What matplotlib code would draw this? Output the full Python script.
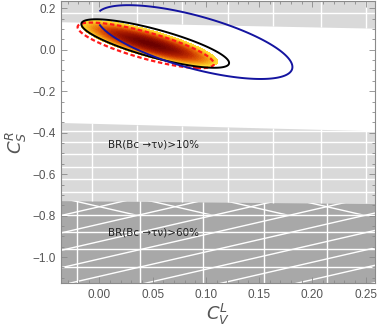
import numpy as np
import matplotlib
matplotlib.use("Agg")
import matplotlib.pyplot as plt
from matplotlib.patches import Polygon
from matplotlib.colors import LinearSegmentedColormap
from matplotlib.ticker import MultipleLocator, FuncFormatter

# plot range
x_range = [-0.036, 0.259]
y_range = [-1.125, 0.233]

# excluded regions: edges given at the left and right end of the x range
top_band_edge = [0.135, 0.104]        # BR > 10% (upper branch)
low_band_edge = [-0.351, -0.391]      # BR > 10% (lower branch)
dark_band_edge = [-0.728, -0.742]     # BR > 60%

# mesh lines of the region plots
light_vlines = [-0.0066, 0.0357, 0.078, 0.121, 0.1635, 0.2077, 0.25]
top_hlines = [0.178]
low_hlines = [-0.391, -0.447, -0.503, -0.565, -0.623, -0.688]
dark_vlines = [-0.0207, 0.0385, 0.0977, 0.155, 0.214]
dark_hlines = [-0.795, -0.877, -0.960, -1.048]
diag_slope = 1.18
diag_up = [-1.429, -1.345, -1.261, -1.177, -1.093, -1.009, -0.925, -0.841, -0.757]
diag_down = [-0.841, -0.757, -0.673, -0.589, -0.505, -0.421]

# fit ellipses: centre x, centre y, sigma x, sigma y, correlation
blue_fit = (0.0893, 0.037, 0.092, 0.178, -0.675)
black_fit = (0.0524, 0.030, 0.0694, 0.117, -0.80)
heat_fit = (0.047, 0.030, 0.064, 0.110, -0.80)
red_fit = (0.0435, 0.021, 0.064, 0.110, -0.80)

labels = ["BR(Bc \u2192\u03c4\u03bd)>10%", "BR(Bc \u2192\u03c4\u03bd)>60%"]
label_pos = [(0.051, -0.455), (0.051, -0.880)]


def chi2(X, Y, fit):
    cx, cy, sx, sy, rho = fit
    dx = (X - cx) / sx
    dy = (Y - cy) / sy
    return (dx**2 - 2 * rho * dx * dy + dy**2) / (1 - rho**2)


def edge(x, e):
    return np.interp(x, x_range, e)


fig = plt.figure(figsize=(3.82, 3.27), dpi=100)
ax = fig.add_axes([0.160, 0.1346, 0.822, 0.861])
ax.set_xlim(x_range)
ax.set_ylim(y_range)

light = "#d9d9d9"
dark = "#a8a8a8"
x0, x1 = x_range
y0, y1 = y_range

ax.fill_between(x_range, top_band_edge, y1, color=light, lw=0, zorder=0)
ax.fill_between(x_range, low_band_edge, y0, color=light, lw=0, zorder=0)
ax.fill_between(x_range, dark_band_edge, y0, color=dark, lw=0, zorder=0.5)

dark_poly = Polygon([(x0, dark_band_edge[0]), (x1, dark_band_edge[1]), (x1, y0), (x0, y0)],
                    closed=True, fc="none", ec="none")
strip_poly = Polygon([(x0, dark_band_edge[0]), (x1, dark_band_edge[1]),
                      (x1, dark_hlines[0]), (x0, dark_hlines[0])],
                     closed=True, fc="none", ec="none")
ax.add_patch(dark_poly)
ax.add_patch(strip_poly)

mesh = dict(color="white", lw=1.0, zorder=1, solid_capstyle="butt")

for v in light_vlines:
    ax.plot([v, v], [edge(v, top_band_edge), y1], **mesh)
    ax.plot([v, v], [edge(v, dark_band_edge), edge(v, low_band_edge)], **mesh)
for h in top_hlines:
    ax.plot(x_range, [h, h], **mesh)
for h in low_hlines:
    ax.plot(x_range, [h, h], **mesh)
for v in dark_vlines:
    ax.plot([v, v], [y0, edge(v, dark_band_edge)], **mesh)
for h in dark_hlines:
    ax.plot(x_range, [h, h], **mesh)

xs = np.array(x_range)
for c in diag_up:
    ln, = ax.plot(xs, diag_slope * xs + c, **mesh)
    ln.set_clip_path(dark_poly)
for d in diag_down:
    ln, = ax.plot(xs, -diag_slope * xs + d, **mesh)
    ln.set_clip_path(strip_poly)

# likelihood maps
gx = np.linspace(x0, x1, 600)
gy = np.linspace(y0, y1, 900)
X, Y = np.meshgrid(gx, gy)

heat_cmap = LinearSegmentedColormap.from_list(
    "heat", ["#6a0000", "#9a1200", "#c83400", "#e86a08", "#f6a818", "#ffdc30"])
ax.contourf(X, Y, chi2(X, Y, heat_fit), levels=np.linspace(0, 1, 30),
            cmap=heat_cmap, zorder=2)

ax.contour(X, Y, chi2(X, Y, red_fit), levels=[1], colors="#ff1a1a",
           linewidths=1.6, linestyles=[(0, (2.0, 1.2))], zorder=3)
ax.contour(X, Y, chi2(X, Y, black_fit), levels=[1], colors="black",
           linewidths=1.4, zorder=4)

bx = np.linspace(0.0, x1, 500)
BX, BY = np.meshgrid(bx, gy)
ax.contour(BX, BY, chi2(BX, BY, blue_fit), levels=[1], colors="#1414a0",
           linewidths=1.4, zorder=5)

for txt, (tx, ty) in zip(labels, label_pos):
    ax.text(tx, ty, txt, ha="center", va="center", fontsize=7.5,
            color="#222222", family="DejaVu Sans", zorder=6)

# frame and ticks
for s in ax.spines.values():
    s.set_color("#8a8a8a")
    s.set_linewidth(0.8)
    s.set_zorder(7)
ax.xaxis.set_major_locator(MultipleLocator(0.05))
ax.xaxis.set_minor_locator(MultipleLocator(0.01))
ax.yaxis.set_major_locator(MultipleLocator(0.2))
ax.yaxis.set_minor_locator(MultipleLocator(0.05))
ax.xaxis.set_major_formatter(FuncFormatter(lambda v, p: f"{v:.2f}".replace("-", "\u2212")))
ax.yaxis.set_major_formatter(FuncFormatter(lambda v, p: f"{v:.1f}".replace("-", "\u2212")))
ax.tick_params(which="both", direction="in", top=True, right=True, color="#8a8a8a",
               labelcolor="#555555", labelsize=8.5, width=0.6)
ax.tick_params(which="major", length=4, pad=4)
ax.tick_params(which="minor", length=2)
for lab in ax.get_xticklabels() + ax.get_yticklabels():
    lab.set_family("Liberation Sans")

ax.set_xlabel("$C_V^L$", fontsize=13, color="#555555", labelpad=1)
ax.set_ylabel("$C_S^R$", fontsize=13, color="#555555", labelpad=2)

fig.savefig("out.png", dpi=100)
